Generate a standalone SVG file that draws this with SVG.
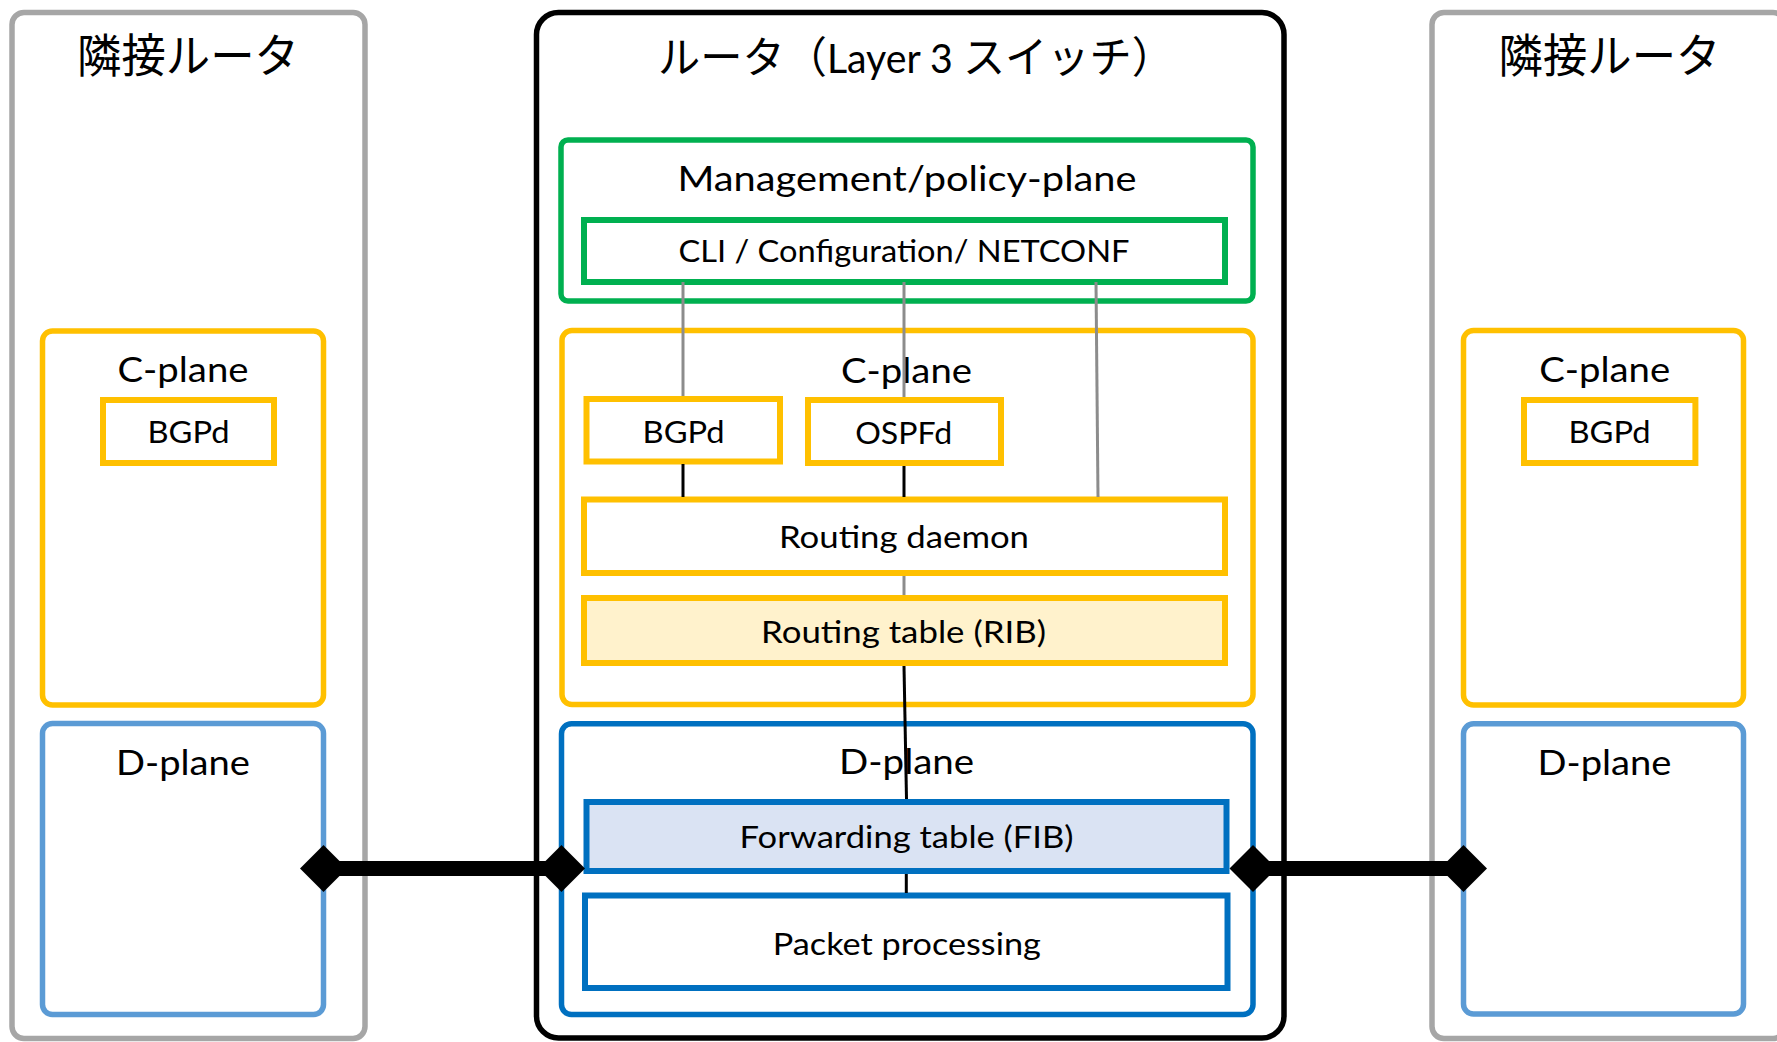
<svg xmlns="http://www.w3.org/2000/svg" width="1777" height="1042" viewBox="0 0 1777 1042">
  <defs>
    <style>
      .t { font-family: Lato, "Noto Sans CJK JP", sans-serif; fill: #000; text-anchor: middle; }
      .jp { font-family: "Noto Sans CJK JP", sans-serif; font-size: 46px; fill: #000; text-anchor: middle; }
      .big { font-size: 35px; }
      .small { font-size: 31.5px; }
      .outer-gray { fill: #fff; stroke: #A6A6A6; stroke-width: 5.5; }
      .outer-black { fill: #fff; stroke: #000; stroke-width: 5.5; }
      .mgmt { fill: #fff; stroke: #00B050; stroke-width: 5.5; }
      .cplane { fill: #fff; stroke: #FFC000; stroke-width: 5.5; }
      .dplane-main { fill: #fff; stroke: #0070C0; stroke-width: 5.5; }
      .dplane-peer { fill: #fff; stroke: #5B9BD5; stroke-width: 5.5; }
      .box-green { fill: #fff; stroke: #00B050; stroke-width: 6; }
      .box-yellow { fill: #fff; stroke: #FFC000; stroke-width: 6; }
      .box-rib { fill: #FFF2CC; stroke: #FFC000; stroke-width: 6; }
      .box-blue { fill: #fff; stroke: #0070C0; stroke-width: 6; }
      .box-fib { fill: #DAE3F3; stroke: #0070C0; stroke-width: 6; }
      .link-gray { stroke: #8C8C8C; stroke-width: 3; fill: none; }
      .link-black { stroke: #000; stroke-width: 3; fill: none; }
      .wire { stroke: #000; stroke-width: 15; fill: none; }
      .port { fill: #000; }
    </style>
  </defs>

  <rect width="1777" height="1042" fill="#fff"/>

  <!-- neighbour router, left -->
  <g id="peer-left">
    <rect class="outer-gray" x="12" y="12.5" width="353" height="1026" rx="12"/>
    <text class="jp" x="188" y="72" textLength="222" lengthAdjust="spacingAndGlyphs">隣接ルータ</text>
  </g>
  <g id="peer-left-cplane">
    <rect class="cplane" x="42.5" y="331" width="281" height="374" rx="10"/>
    <text class="t big" x="183" y="382" textLength="131" lengthAdjust="spacingAndGlyphs">C-plane</text>
  </g>
  <g id="peer-left-bgpd">
    <rect class="box-yellow" x="103" y="400" width="171" height="63"/>
    <text class="t small" x="188.5" y="443" textLength="82" lengthAdjust="spacingAndGlyphs">BGPd</text>
  </g>
  <g id="peer-left-dplane">
    <rect class="dplane-peer" x="42.5" y="723.5" width="281" height="291" rx="10"/>
    <text class="t big" x="183" y="775" textLength="134" lengthAdjust="spacingAndGlyphs">D-plane</text>
  </g>

  <!-- router (layer 3 switch) -->
  <g id="router">
    <rect class="outer-black" x="536.5" y="12.5" width="747.5" height="1025.5" rx="22"/>
    <text class="t" x="916" y="73" font-size="40" textLength="516" lengthAdjust="spacingAndGlyphs"><tspan font-family="Noto Sans CJK JP, sans-serif" font-size="43">ルータ（</tspan>Layer 3 <tspan font-family="Noto Sans CJK JP, sans-serif" font-size="43">スイッチ）</tspan></text>
  </g>
  <g id="mgmt-plane">
    <rect class="mgmt" x="561" y="140" width="692" height="161" rx="7"/>
    <text class="t big" x="907" y="191" textLength="459" lengthAdjust="spacingAndGlyphs">Management/policy-plane</text>
  </g>
  <g id="cli">
    <rect class="box-green" x="584" y="220" width="641" height="62"/>
    <text class="t small" x="904" y="262" textLength="451" lengthAdjust="spacingAndGlyphs">CLI / Configuration/ NETCONF</text>
  </g>
  <g id="router-cplane">
    <rect class="cplane" x="562" y="330.5" width="691" height="374" rx="10"/>
    <text class="t big" x="906.5" y="383" textLength="131" lengthAdjust="spacingAndGlyphs">C-plane</text>
  </g>
  <g id="router-bgpd">
    <rect class="box-yellow" x="586.5" y="399" width="193.5" height="62.5"/>
    <text class="t small" x="683.6" y="443" textLength="82" lengthAdjust="spacingAndGlyphs">BGPd</text>
  </g>
  <g id="router-ospfd">
    <rect class="box-yellow" x="808" y="400" width="193" height="63"/>
    <text class="t small" x="903.7" y="443.5" textLength="97" lengthAdjust="spacingAndGlyphs">OSPFd</text>
  </g>
  <g id="routing-daemon">
    <rect class="box-yellow" x="584" y="499.5" width="641" height="73.5"/>
    <text class="t small" x="904" y="548" textLength="250" lengthAdjust="spacingAndGlyphs">Routing daemon</text>
  </g>
  <g id="rib">
    <rect class="box-rib" x="584" y="598" width="641" height="65"/>
    <text class="t small" x="903.5" y="643" textLength="285" lengthAdjust="spacingAndGlyphs">Routing table (RIB)</text>
  </g>
  <g id="router-dplane">
    <rect class="dplane-main" x="561.5" y="723.7" width="691.5" height="290.8" rx="10"/>
    <text class="t big" x="906.6" y="774" textLength="135" lengthAdjust="spacingAndGlyphs">D-plane</text>
  </g>
  <g id="fib">
    <rect class="box-fib" x="586.5" y="802" width="640" height="69"/>
    <text class="t small" x="906.6" y="848" textLength="334" lengthAdjust="spacingAndGlyphs">Forwarding table (FIB)</text>
  </g>
  <g id="packet-processing">
    <rect class="box-blue" x="585" y="895.5" width="642.5" height="92.5"/>
    <text class="t small" x="906.8" y="955" textLength="268" lengthAdjust="spacingAndGlyphs">Packet processing</text>
  </g>

  <!-- neighbour router, right -->
  <g id="peer-right">
    <rect class="outer-gray" x="1432" y="12.5" width="353" height="1026" rx="12"/>
    <text class="jp" x="1609.5" y="72" textLength="222" lengthAdjust="spacingAndGlyphs">隣接ルータ</text>
  </g>
  <g id="peer-right-cplane">
    <rect class="cplane" x="1463.5" y="330.5" width="280" height="374.5" rx="10"/>
    <text class="t big" x="1604.7" y="382" textLength="131" lengthAdjust="spacingAndGlyphs">C-plane</text>
  </g>
  <g id="peer-right-bgpd">
    <rect class="box-yellow" x="1524" y="400" width="171.4" height="63"/>
    <text class="t small" x="1609.5" y="443" textLength="82" lengthAdjust="spacingAndGlyphs">BGPd</text>
  </g>
  <g id="peer-right-dplane">
    <rect class="dplane-peer" x="1463.5" y="723.8" width="280" height="290.2" rx="10"/>
    <text class="t big" x="1604.5" y="775" textLength="134" lengthAdjust="spacingAndGlyphs">D-plane</text>
  </g>

  <!-- connectors -->
  <g id="connectors">
    <line class="link-gray" x1="683" y1="282" x2="683" y2="396"/>
    <line class="link-gray" x1="904" y1="282" x2="904" y2="397"/>
    <line class="link-gray" x1="1096" y1="282" x2="1098" y2="497"/>
    <line class="link-black" x1="683" y1="464" x2="683" y2="497"/>
    <line class="link-black" x1="904" y1="466" x2="904" y2="497"/>
    <line class="link-gray" x1="904" y1="576" x2="904" y2="595"/>
    <line class="link-black" x1="904" y1="666" x2="906.5" y2="799"/>
    <line class="link-black" x1="906.3" y1="874" x2="906.3" y2="893"/>

    <!-- physical links between D-planes -->
    <line class="wire" x1="323.5" y1="868.5" x2="561.5" y2="868.5"/>
    <path class="port" d="M323.5 845 L347 868.5 L323.5 892 L300 868.5 Z"/>
    <path class="port" d="M561.5 845 L585 868.5 L561.5 892 L538 868.5 Z"/>
    <line class="wire" x1="1253" y1="868.5" x2="1463.5" y2="868.5"/>
    <path class="port" d="M1253 845 L1276.5 868.5 L1253 892 L1229.5 868.5 Z"/>
    <path class="port" d="M1463.5 845 L1487 868.5 L1463.5 892 L1440 868.5 Z"/>
  </g>
</svg>
